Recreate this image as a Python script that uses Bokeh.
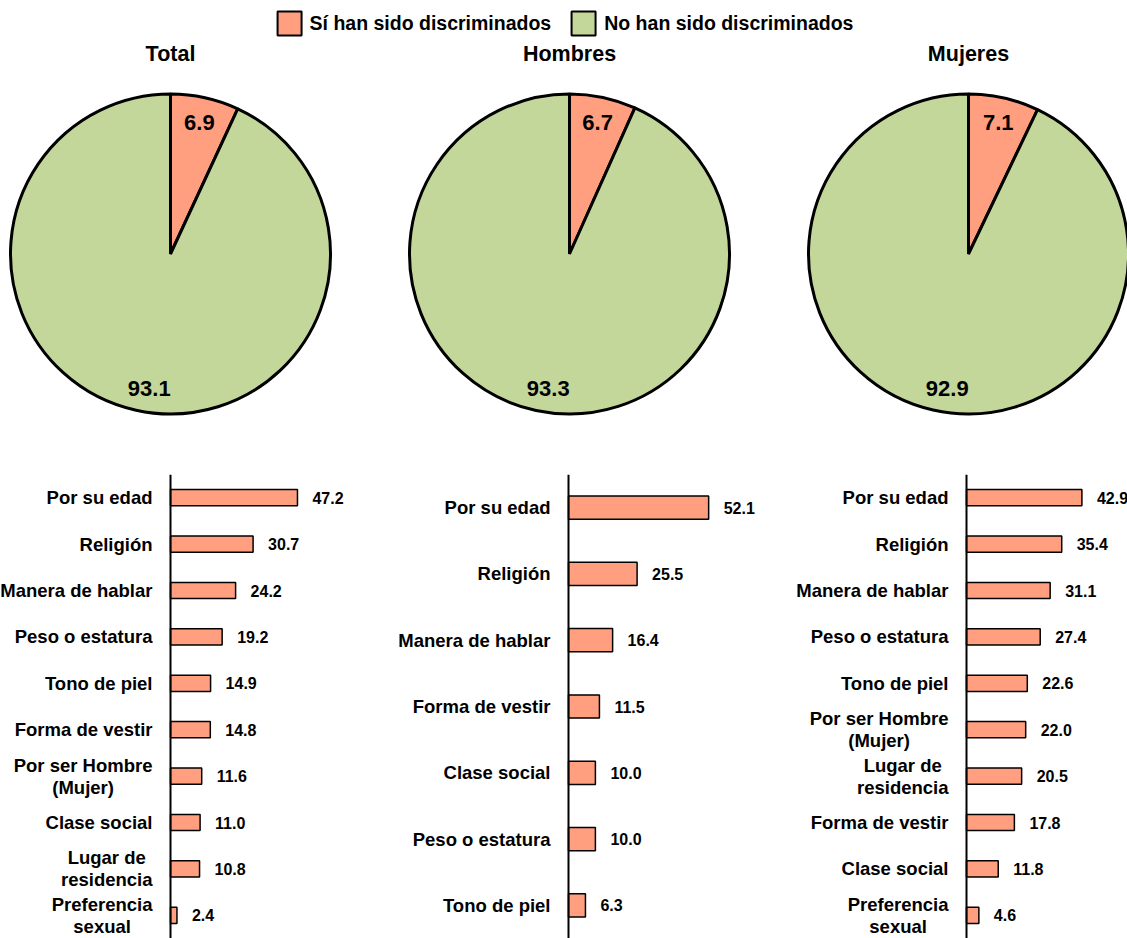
import math
from bokeh.plotting import figure
from bokeh.models import FactorRange, Range1d, Legend, LegendItem, ColumnDataSource, Span
from bokeh.layouts import column, row
from bokeh.embed import file_html
from bokeh.resources import INLINE
from bokeh.core.properties import value

# ---------------- data ----------------
legend_labels = ["Sí han sido discriminados", "No han sido discriminados"]
pie_titles = ["Total", "Hombres", "Mujeres"]
si_pct = [6.9, 6.7, 7.1]
no_pct = [93.1, 93.3, 92.9]

total_cats = ["Por su edad", "Religión", "Manera de hablar", "Peso o estatura",
              "Tono de piel", "Forma de vestir", "Por ser Hombre (Mujer)",
              "Clase social", "Lugar de residencia", "Preferencia sexual"]
total_vals = [47.2, 30.7, 24.2, 19.2, 14.9, 14.8, 11.6, 11.0, 10.8, 2.4]

hombres_cats = ["Por su edad", "Religión", "Manera de hablar", "Forma de vestir",
                "Clase social", "Peso o estatura", "Tono de piel"]
hombres_vals = [52.1, 25.5, 16.4, 11.5, 10.0, 10.0, 6.3]

mujeres_cats = ["Por su edad", "Religión", "Manera de hablar", "Peso o estatura",
                "Tono de piel", "Por ser Hombre (Mujer)", "Lugar de residencia",
                "Forma de vestir", "Clase social", "Preferencia sexual"]
mujeres_vals = [42.9, 35.4, 31.1, 27.4, 22.6, 22.0, 20.5, 17.8, 11.8, 4.6]

label_breaks = {"Por ser Hombre (Mujer)": "Por ser Hombre\n(Mujer)",
                "Lugar de residencia": "Lugar de\nresidencia",
                "Preferencia sexual": "Preferencia\nsexual"}

# ---------------- style / layout ----------------
SALMON = "#FF9F80"
GREEN = "#C4D79B"
FONT = "Liberation Sans"
COL_W = [390, 400, 337]
PIE_CX = [170, 179, 178]
AXIS_X = [170, 178, 176]
R_PX = 160.0
LEG_H = 42
PIE_H = 432
PIE_CY = 211.5
BAR_H = 464
PX_PER_UNIT = 2.69
GREEN_LABEL_ANGLE = math.radians(-99)
CAT_SIZE = 18.5
STANDOFF = 18

# Arial/Liberation Sans Bold advance widths (1/1000 em), used to centre wrapped lines
CHAR_W = {' ': 278, '(': 333, ')': 333, 'C': 722, 'E': 667, 'F': 611, 'H': 722,
          'L': 611, 'M': 833, 'P': 667, 'R': 722, 'T': 611, 'a': 556, 'b': 611,
          'c': 556, 'd': 611, 'e': 556, 'f': 333, 'g': 611, 'h': 611, 'i': 278,
          'j': 278, 'l': 278, 'm': 889, 'n': 611, 'o': 611, 'p': 611, 'r': 389,
          's': 556, 't': 333, 'u': 611, 'v': 556, 'x': 556, 'y': 556, 'z': 500,
          'ó': 611}


def text_w(s, size):
    return sum(CHAR_W.get(ch, 556) for ch in s) * size / 1000.0


def bare(p):
    p.axis.visible = False
    p.grid.visible = False
    p.outline_line_color = None


def pie_fig(title, si, no, width, cx):
    p = figure(width=width, height=PIE_H,
               x_range=Range1d(-cx / R_PX, (width - cx) / R_PX),
               y_range=Range1d(-(PIE_H - PIE_CY) / R_PX, PIE_CY / R_PX),
               output_backend="svg", toolbar_location=None, min_border=0)
    bare(p)
    total = si + no
    a0 = math.pi / 2
    a_si = 2 * math.pi * si / total
    src = ColumnDataSource(dict(start=[a0 - a_si, a0 - 2 * math.pi],
                                end=[a0, a0 - a_si],
                                color=[SALMON, GREEN]))
    p.wedge(x=0, y=0, radius=1, start_angle="start", end_angle="end",
            direction="anticlock", fill_color="color", line_color="black",
            line_width=3, source=src)
    mid = a0 - a_si / 2
    lab = ColumnDataSource(dict(
        x=[0.84 * math.cos(mid), 0.85 * math.cos(GREEN_LABEL_ANGLE)],
        y=[0.84 * math.sin(mid), 0.85 * math.sin(GREEN_LABEL_ANGLE)],
        t=[f"{si:.1f}", f"{no:.1f}"]))
    p.text(x="x", y="y", text="t", source=lab, text_align="center",
           text_baseline="middle", text_font=value(FONT),
           text_font_style="bold", text_font_size="22px", text_color="black")
    p.text(x=[0], y=[(PIE_CY - 11) / R_PX], text=[title], text_align="center",
           text_baseline="middle", text_font=value(FONT),
           text_font_style="bold", text_font_size="21.5px", text_color="black")
    return p


def bar_fig(cats, vals, width, ax):
    p = figure(width=width, height=BAR_H,
               y_range=FactorRange(factors=cats[::-1]),
               x_range=Range1d(-ax / PX_PER_UNIT, (width - ax) / PX_PER_UNIT),
               output_backend="svg", toolbar_location=None, min_border=0)
    bare(p)
    src = ColumnDataSource(dict(cat=cats, val=vals,
                                lab=[f"{v:.1f}" for v in vals]))
    p.hbar(y="cat", left=0, right="val", height=0.35, source=src,
           fill_color=SALMON, line_color="black", line_width=1.5)
    p.add_layout(Span(location=0, dimension="height", line_color="black",
                      line_width=2))
    p.text(x="val", y="cat", text="lab", source=src, x_offset=15,
           text_align="left", text_baseline="middle", text_font=value(FONT),
           text_font_style="bold", text_font_size="16px", text_color="black")
    single = [c for c in cats if c not in label_breaks]
    multi = [c for c in cats if c in label_breaks]
    p.text(x=[0] * len(single), y=single, text=single, x_offset=-STANDOFF,
           text_align="right", text_baseline="middle", text_font=value(FONT),
           text_font_style="bold", text_font_size=f"{CAT_SIZE}px",
           text_color="black")
    if multi:
        msrc = ColumnDataSource(dict(
            x=[0] * len(multi), y=multi,
            t=[label_breaks[c] for c in multi],
            off=[-(STANDOFF + max(text_w(l, CAT_SIZE) for l in label_breaks[c].split("\n")) / 2)
                 for c in multi]))
        p.text(x="x", y="y", text="t", source=msrc, x_offset="off",
               text_align="center", text_baseline="middle",
               text_font=value(FONT), text_font_style="bold",
               text_font_size=f"{CAT_SIZE}px", text_color="black",
               text_line_height=1.05)
    return p


# legend strip
lp = figure(width=sum(COL_W), height=LEG_H, x_range=Range1d(0, 1), y_range=Range1d(0, 1),
            output_backend="svg", toolbar_location=None, min_border=0)
bare(lp)
r1 = lp.rect(x=[-5], y=[-5], width=[0.1], height=[0.1], fill_color=SALMON,
             line_color="black", line_width=2)
r2 = lp.rect(x=[-5], y=[-5], width=[0.1], height=[0.1], fill_color=GREEN,
             line_color="black", line_width=2)
leg = Legend(items=[LegendItem(label=legend_labels[0], renderers=[r1]),
                    LegendItem(label=legend_labels[1], renderers=[r2])],
             location="top_center", orientation="horizontal",
             glyph_width=30, glyph_height=30, label_standoff=6, spacing=17,
             padding=0, margin=8, border_line_color=None,
             background_fill_alpha=0, label_text_font=FONT,
             label_text_font_style="bold", label_text_font_size="19.5px",
             label_text_color="black", label_height=30)
lp.add_layout(leg)

pies = [pie_fig(t, s, n, w, c) for t, s, n, w, c in
        zip(pie_titles, si_pct, no_pct, COL_W, PIE_CX)]
bars = [bar_fig(total_cats, total_vals, COL_W[0], AXIS_X[0]),
        bar_fig(hombres_cats, hombres_vals, COL_W[1], AXIS_X[1]),
        bar_fig(mujeres_cats, mujeres_vals, COL_W[2], AXIS_X[2])]

layout = column(lp, row(*pies), row(*bars))
open("out.html", "w").write(file_html(layout, INLINE))
